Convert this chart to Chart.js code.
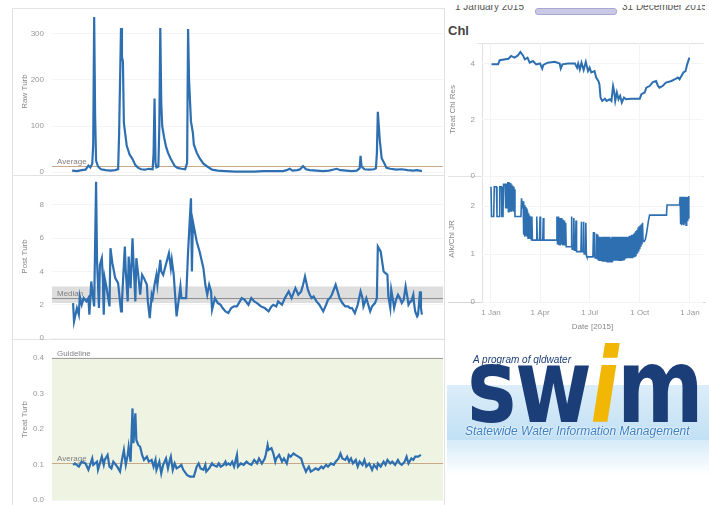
<!DOCTYPE html>
<html>
<head>
<meta charset="utf-8">
<script src="https://cdn.jsdelivr.net/npm/chart.js@4.4.1/dist/chart.umd.min.js"></script>
<style>
body { margin: 0; width: 709px; height: 505px; overflow: hidden; position: relative; background: #fff; font-family: "Liberation Sans", Arial, sans-serif; }
canvas { position: absolute; }
.ln { position: absolute; background: #e2e2e2; }
.txt { position: absolute; white-space: nowrap; }
</style>
</head>
<body>

<!-- pane frames -->
<div class="ln" style="left:12px;top:8px;width:1px;height:497px"></div>
<div class="ln" style="left:12px;top:8px;width:433px;height:1px"></div>
<div class="ln" style="left:444px;top:8px;width:1px;height:497px"></div>
<div class="ln" style="left:12px;top:175px;width:433px;height:1px"></div>
<div class="ln" style="left:12px;top:339px;width:433px;height:1px"></div>
<div class="ln" style="left:477px;top:43px;width:227px;height:1px"></div>
<div class="ln" style="left:448px;top:176px;width:256px;height:1px"></div>
<div class="ln" style="left:448px;top:302px;width:258px;height:1px;background:#d8d8d8"></div>
<div class="ln" style="left:482px;top:43px;width:1px;height:260px"></div>

<!-- date filter (cut at top) -->
<div class="txt" style="left:455px;top:5px;height:10px;width:250px;overflow:hidden">
  <div class="txt" style="left:0;top:-4px;font-size:10px;color:#555">1 January 2015</div>
  <div class="txt" style="left:80px;top:3px;width:80px;height:5px;background:#c9c9e6;border:1px solid #a8a8d2;border-radius:3px"></div>
  <div class="txt" style="left:167px;top:-4px;font-size:10px;color:#555">31 December 2015</div>
</div>
<div class="txt" style="left:448px;top:23px;font-size:13px;font-weight:bold;color:#444">Chl</div>

<canvas id="raw" width="431" height="183" style="left:12px;top:0px"></canvas>
<canvas id="post" width="431" height="179" style="left:12px;top:167px"></canvas>
<canvas id="treat" width="431" height="177" style="left:12px;top:331px"></canvas>
<canvas id="chl" width="263" height="149" style="left:440px;top:35px"></canvas>
<canvas id="alk" width="263" height="167" style="left:440px;top:168px"></canvas>

<!-- logo -->
<div class="txt" style="left:447px;top:385px;width:262px;height:55px;background:linear-gradient(to bottom,#dbedf9,#c2e0f5)"></div>
<div class="txt" style="left:447px;top:440px;width:262px;height:35px;background:linear-gradient(to bottom,#d6ebf8,#ffffff)"></div>
<div class="txt" style="left:473px;top:354px;font-size:10px;font-style:italic;color:#1c3e78">A program of qldwater</div>
<div class="txt" style="left:467px;top:334px;font-family:'DejaVu Sans',sans-serif;font-weight:bold;font-size:104px;line-height:104px;color:#1c3e78;transform:scaleX(0.8);transform-origin:0 0;letter-spacing:-2px">sw<span style="color:#f2b705;font-style:italic">i</span>m</div>
<div class="txt" style="left:465px;top:424px;font-size:12px;font-style:italic;color:#3b7fc4;text-shadow:0 0 2px #fff,0 0 2px #fff">Statewide Water Information Management</div>

<script>
// values, x = day of 2015 (0 = 1 Jan)
const rawTurb = [[0,3],[5,2],[10,4],[14,5],[17,14],[19,10],[21,18],[22,60],[23,337],[24,120],[25,25],[27,12],[30,6],[35,4],[40,3],[45,4],[48,6],[49,80],[51,313],[52,250],[53,240],[54,107],[55,90],[57,57],[60,38],[63,28],[66,15],[69,9],[72,6],[76,5],[80,7],[84,6],[85,40],[86,160],[87,20],[88,10],[90,12],[91,100],[92,313],[93,150],[94,100],[96,75],[98,55],[100,42],[103,28],[107,13],[110,9],[114,7],[118,6],[120,20],[121,311],[122,200],[124,110],[126,85],[127,60],[130,42],[133,30],[137,18],[141,12],[146,5],[152,3],[160,2],[170,1],[180,1],[190,1],[200,2],[210,2],[220,2],[224,4],[227,7],[230,3],[235,4],[238,6],[241,13],[244,6],[248,4],[255,3],[262,2],[268,3],[272,5],[276,7],[280,4],[286,3],[292,2],[297,3],[300,8],[301,35],[302,12],[305,6],[310,5],[315,6],[317,8],[318,40],[319,131],[321,70],[323,30],[326,18],[328,9],[332,7],[338,5],[344,6],[350,4],[356,3],[360,4],[365,2]];

const postTurb = [[1,2.1],[2,1.0],[5,1.8],[7,1.4],[8,2.5],[10,2.0],[12,2.4],[15,2.2],[17,2.4],[18,1.4],[20,3.4],[21,2.8],[23,1.9],[25,9.4],[26,4.6],[28,1.8],[29,4.4],[31,4.8],[32,3.6],[33,1.4],[34,3.6],[36,3.0],[39,1.9],[40,5.4],[42,4.5],[45,3.6],[48,3.3],[51,1.6],[52,2.2],[55,5.5],[56,4.0],[58,2.2],[59,4.9],[61,3.0],[63,6.0],[64,4.6],[66,2.2],[67,4.8],[69,3.8],[71,2.6],[73,3.8],[75,3.6],[78,3.2],[79,2.2],[81,1.2],[83,2.6],[84,2.4],[86,3.2],[88,3.8],[89,3.2],[92,4.7],[93,4.0],[95,3.8],[101,5.1],[103,4.2],[104,4.7],[106,3.8],[109,1.3],[113,3.1],[114,2.4],[119,2.4],[121,5.2],[124,8.4],[125,4.0],[126,7.0],[130,5.8],[133,5.2],[137,4.2],[139,3.2],[141,2.6],[143,3.2],[145,2.8],[146,1.7],[149,2.4],[152,2.1],[155,2.0],[157,1.8],[160,1.6],[163,1.5],[166,1.8],[169,1.9],[172,1.9],[175,2.2],[177,2.4],[180,2.3],[184,2.0],[187,2.4],[190,2.2],[193,2.1],[197,1.9],[201,1.8],[205,1.6],[208,1.9],[210,2.0],[213,1.9],[215,2.2],[219,2.0],[222,2.4],[226,2.8],[229,2.4],[231,2.7],[233,3.0],[236,2.6],[239,2.8],[241,3.2],[243,3.7],[246,2.9],[248,2.6],[250,2.4],[252,2.5],[255,2.2],[258,2.0],[260,1.8],[262,1.6],[265,2.0],[267,2.3],[269,2.4],[271,2.6],[273,2.9],[275,3.2],[277,2.8],[279,2.4],[282,2.1],[285,1.9],[288,1.9],[290,1.8],[292,1.8],[295,1.5],[298,2.0],[301,2.8],[303,2.4],[304,1.9],[307,2.4],[309,2.0],[311,1.6],[313,1.9],[316,2.1],[318,2.4],[319,5.5],[321,5.3],[322,5.2],[325,4.0],[327,3.9],[329,3.8],[330,2.5],[332,1.8],[333,2.9],[335,2.2],[336,1.8],[338,2.3],[340,2.6],[342,2.4],[344,2.1],[346,2.3],[348,3.1],[350,2.4],[351,2.0],[353,2.2],[354,2.2],[356,2.6],[357,2.0],[358,1.6],[360,1.3],[361,1.4],[363,2.8],[364,1.8],[365,1.4]];

const treatTurb = [[1,0.099],[3,0.103],[7,0.094],[10,0.108],[14,0.103],[17,0.085],[21,0.117],[22,0.099],[26,0.108],[27,0.085],[31,0.122],[33,0.099],[34,0.113],[37,0.127],[39,0.094],[41,0.089],[43,0.108],[47,0.094],[50,0.080],[52,0.113],[54,0.141],[56,0.099],[58,0.127],[59,0.150],[61,0.108],[63,0.258],[64,0.160],[66,0.244],[67,0.169],[69,0.155],[71,0.150],[73,0.127],[75,0.113],[78,0.122],[80,0.108],[83,0.113],[85,0.094],[87,0.113],[88,0.085],[91,0.108],[93,0.075],[95,0.099],[98,0.117],[100,0.089],[102,0.113],[103,0.122],[105,0.085],[107,0.103],[109,0.089],[112,0.094],[114,0.099],[116,0.085],[120,0.070],[123,0.066],[127,0.066],[130,0.094],[132,0.103],[134,0.089],[137,0.085],[139,0.099],[140,0.080],[143,0.089],[146,0.103],[147,0.099],[151,0.094],[153,0.103],[155,0.094],[158,0.099],[160,0.108],[161,0.099],[163,0.103],[165,0.099],[167,0.108],[169,0.094],[172,0.127],[173,0.094],[176,0.103],[179,0.099],[182,0.108],[184,0.103],[187,0.099],[190,0.113],[193,0.103],[195,0.117],[198,0.103],[201,0.117],[202,0.127],[204,0.155],[205,0.141],[208,0.146],[210,0.131],[212,0.108],[213,0.117],[216,0.127],[219,0.108],[221,0.117],[224,0.103],[226,0.127],[228,0.122],[231,0.131],[233,0.127],[236,0.122],[239,0.117],[241,0.099],[244,0.080],[245,0.085],[247,0.094],[249,0.080],[252,0.085],[254,0.089],[257,0.085],[260,0.094],[262,0.089],[265,0.099],[267,0.094],[270,0.103],[273,0.099],[275,0.108],[278,0.117],[280,0.131],[282,0.117],[285,0.113],[287,0.122],[289,0.108],[291,0.117],[293,0.103],[296,0.113],[298,0.094],[300,0.108],[303,0.099],[305,0.113],[307,0.094],[310,0.103],[313,0.085],[315,0.099],[318,0.089],[319,0.103],[322,0.094],[325,0.108],[327,0.099],[329,0.113],[332,0.103],[334,0.108],[337,0.099],[340,0.113],[342,0.103],[344,0.099],[347,0.108],[349,0.122],[351,0.103],[354,0.117],[356,0.113],[358,0.122],[361,0.122],[364,0.127]];

const chlRes = [[1,3.97],[13,3.97],[16,4.12],[32,4.17],[37,4.27],[43,4.21],[49,4.28],[54,4.41],[59,4.28],[62,4.15],[67,4.21],[71,4.03],[77,4.09],[83,3.97],[90,4.0],[94,3.82],[96,3.95],[104,4.03],[117,4.06],[126,4.0],[128,3.82],[131,3.97],[141,4.0],[154,4.0],[158,3.85],[160,4.0],[163,3.79],[166,4.03],[170,3.77],[174,4.06],[178,3.73],[181,3.85],[184,3.68],[190,3.73],[193,3.5],[197,3.38],[199,3.26],[201,2.79],[204,2.67],[209,2.75],[212,2.67],[218,2.73],[221,2.67],[224,3.2],[226,3.02],[228,2.67],[231,2.97],[234,2.73],[237,2.85],[240,2.61],[244,2.79],[248,2.73],[257,2.75],[273,2.75],[276,2.91],[282,2.97],[285,3.14],[291,3.2],[297,3.34],[303,3.38],[306,3.22],[309,3.14],[315,3.2],[321,3.32],[331,3.38],[337,3.44],[343,3.5],[346,3.44],[353,3.68],[357,3.73],[360,3.97],[364,4.21]];

const alkChl = [[0,2.40],[1,1.78],[5,1.78],[6,2.40],[10,2.40],[11,1.78],[15,1.78],[16,2.40],[19,2.40],[20,1.78],[22,1.78],[23,2.45],[26,2.45],[27,1.95],[28,2.47],[29,1.95],[31,2.50],[32,1.88],[33,2.50],[34,1.90],[35,2.48],[36,1.88],[37,2.45],[38,1.88],[39,2.42],[40,1.90],[41,2.40],[42,1.88],[43,2.35],[44,1.78],[55,1.78],[56,2.16],[58,1.95],[59,2.10],[60,1.40],[61,2.02],[62,1.36],[63,1.98],[64,1.38],[65,1.95],[66,1.36],[67,1.90],[68,1.33],[69,1.85],[70,1.36],[71,1.80],[72,1.33],[73,1.78],[74,1.30],[75,1.78],[76,1.29],[83,1.29],[84,1.78],[85,1.29],[89,1.29],[90,1.78],[91,1.29],[95,1.29],[96,1.75],[97,1.29],[120,1.29],[121,1.78],[122,1.20],[124,1.78],[125,1.20],[126,1.75],[127,1.18],[129,1.75],[130,1.20],[131,1.72],[132,1.18],[134,1.70],[135,1.18],[137,1.65],[138,1.15],[147,1.15],[148,1.78],[149,1.10],[151,1.10],[152,1.75],[153,1.08],[155,1.08],[156,1.70],[157,1.05],[165,1.05],[166,1.67],[167,1.05],[169,1.05],[170,1.67],[171,1.00],[173,1.00],[174,1.65],[175,0.97],[176,0.94],[187,0.94],[188,1.46],[189,0.94],[190,1.45],[191,0.92],[193,0.92],[194,1.42],[195,0.90],[196,1.40],[197,0.88],[198,1.36],[199,0.87],[200,1.36],[201,0.86],[202,1.35],[203,0.85],[204,1.36],[205,0.84],[206,1.36],[207,0.84],[208,1.33],[209,0.84],[210,1.36],[211,0.84],[212,1.33],[213,0.84],[214,1.36],[215,0.84],[216,1.36],[217,0.85],[218,1.36],[219,0.84],[220,1.33],[221,0.84],[222,1.36],[223,0.84],[224,1.36],[225,0.86],[226,1.36],[227,0.86],[228,1.36],[229,0.86],[230,1.36],[231,0.86],[232,1.35],[233,0.86],[234,1.36],[235,0.87],[236,1.36],[237,0.87],[238,1.36],[239,0.87],[240,1.36],[241,0.88],[242,1.36],[243,0.88],[244,1.36],[245,0.88],[246,1.36],[247,0.90],[248,1.36],[249,0.91],[250,1.36],[251,0.91],[252,1.36],[253,0.91],[254,1.38],[255,0.91],[256,1.38],[257,0.93],[258,1.40],[259,0.93],[260,1.40],[261,0.95],[262,1.42],[263,0.95],[264,1.45],[265,0.97],[266,1.48],[267,1.00],[268,1.50],[269,1.01],[270,1.55],[271,1.05],[272,1.58],[273,1.10],[274,1.60],[275,1.15],[276,1.62],[277,1.20],[278,1.65],[279,1.26],[281,1.26],[283,1.30],[285,1.40],[287,1.55],[289,1.70],[291,1.81],[322,1.81],[323,2.02],[346,2.02],[347,2.19],[348,1.62],[349,2.19],[350,1.60],[351,2.19],[352,1.62],[353,2.19],[354,1.60],[355,2.19],[356,1.65],[357,2.19],[358,1.60],[359,2.19],[360,1.70],[361,2.19],[362,1.75],[363,2.19],[364,2.19]];

// reference lines / bands
const rawAverage = 13;
const postMedian = 2.4;
const postBand = [2.1, 3.1];
const treatGuideline = 0.4;
const treatAverage = 0.104;

// tick labels
const rawTicks = [0, 100, 200, 300];
const postTicks = [0, 2, 4, 6, 8];
const treatTicks = [0, 0.1, 0.2, 0.3, 0.4];
const chlTicks = [0, 2, 4];
const alkTicks = [0, 1, 2];
const dateTickDays = [0, 90, 181, 273, 365];
const dateTickLabels = ['1 Jan', '1 Apr', '1 Jul', '1 Oct', '1 Jan'];

const lineBlue = '#2d6fb1';
Chart.defaults.font.family = '"Liberation Sans", Arial, sans-serif';

// draws bands and reference lines from y-values through the y scale
const refLinesPlugin = {
    id: 'refLines',
    beforeDatasetsDraw(chart, args, opts) {
        const { ctx, chartArea: a, scales: { y } } = chart;
        ctx.save();
        (opts.bands || []).forEach(b => {
            const y1 = y.getPixelForValue(b.to);
            const y2 = y.getPixelForValue(b.from);
            ctx.fillStyle = b.color;
            ctx.fillRect(a.left, y1, a.right - a.left, y2 - y1);
        });
        (opts.lines || []).forEach(l => {
            const py = Math.round(y.getPixelForValue(l.value)) + 0.5;
            ctx.strokeStyle = l.color;
            ctx.lineWidth = 1;
            ctx.beginPath();
            ctx.moveTo(a.left, py);
            ctx.lineTo(a.right, py);
            ctx.stroke();
            if (l.label) {
                ctx.fillStyle = '#808080';
                ctx.font = '8px "Liberation Sans", Arial';
                ctx.textBaseline = 'bottom';
                ctx.fillText(l.label, a.left + 5, py - 1);
            }
        });
        ctx.restore();
    }
};

function yScale(o) {
    return {
        type: 'linear', min: o.min, max: o.max,
        afterBuildTicks: s => { s.ticks = o.ticks.map(v => ({ value: v })); },
        afterFit: s => { s.width = o.width; s.paddingTop = 0; s.paddingBottom = 0; },
        ticks: { color: '#999', font: { size: 8 }, padding: o.tickPad, callback: o.fmt || (v => v) },
        grid: { color: '#f4f4f4', drawTicks: false },
        border: { display: false },
        title: { display: true, text: o.title, color: '#888', font: { size: 8 }, padding: { top: o.titlePad, bottom: 0 } }
    };
}

function lineChart(id, series, o) {
    return new Chart(document.getElementById(id), {
        type: 'line',
        data: {
            datasets: [{
                data: series.map(p => ({ x: p[0], y: p[1] })),
                borderColor: lineBlue,
                borderWidth: o.lw || 2.2,
                pointRadius: 0,
                tension: 0
            }]
        },
        options: {
            responsive: false,
            animation: false,
            events: [],
            layout: { padding: { top: 8, bottom: o.padBottom === undefined ? 8 : o.padBottom, left: 0, right: 0 } },
            plugins: { legend: { display: false }, tooltip: { enabled: false }, refLines: o.refs || {} },
            scales: { x: o.x, y: o.y }
        },
        plugins: [refLinesPlugin]
    });
}

const leftX = { type: 'linear', min: -21, max: 387, display: false };

function rightX(showLabels) {
    return {
        type: 'linear', min: -16.5, max: 389,
        afterBuildTicks: s => { s.ticks = dateTickDays.map(v => ({ value: v })); },
        afterFit: s => { s.height = showLabels ? 33 : 0; s.paddingLeft = 0; s.paddingRight = 0; },
        ticks: { display: showLabels, color: '#999', font: { size: 8 }, padding: 6, autoSkip: false, maxRotation: 0,
                 callback: (v, i) => dateTickLabels[i] },
        grid: { color: '#f4f4f4', drawTicks: false },
        border: { display: false },
        title: { display: showLabels, text: 'Date [2015]', color: '#888', font: { size: 8 }, padding: { top: 0, bottom: 3 } }
    };
}

lineChart('raw', rawTurb, {
    x: leftX,
    y: yScale({ min: -6.5, max: 356.5, ticks: rawTicks, width: 40, tickPad: 8, titlePad: 8, title: 'Raw Turb' }),
    refs: { lines: [{ value: rawAverage, color: '#c9a987', label: 'Average' }] }
});

lineChart('post', postTurb, {
    x: leftX,
    y: yScale({ min: 0, max: 9.8, ticks: postTicks, width: 40, tickPad: 8, titlePad: 8, title: 'Post Turb' }),
    refs: {
        bands: [{ from: postBand[0], to: postBand[1], color: '#dedede' }],
        lines: [{ value: postMedian, color: '#8f8f8f', label: 'Median' }]
    }
});

lineChart('treat', treatTurb, {
    x: leftX,
    y: yScale({ min: 0, max: 0.4535, ticks: treatTicks, width: 40, tickPad: 8, titlePad: 8, title: 'Treat Turb',
                fmt: v => v.toFixed(1) }),
    refs: {
        bands: [{ from: 0, to: treatGuideline, color: '#eef3e2' }],
        lines: [{ value: treatGuideline, color: '#a0a0a0', label: 'Guideline' },
                { value: treatAverage, color: '#c9a987', label: 'Average' }]
    }
});

lineChart('chl', chlRes, {
    lw: 2,
    x: rightX(false),
    y: yScale({ min: 0, max: 4.73, ticks: chlTicks, width: 42, tickPad: 7, titlePad: 8, title: 'Treat Chl Res' })
});

lineChart('alk', alkChl, {
    lw: 1.6,
    padBottom: 0,
    x: rightX(true),
    y: yScale({ min: 0, max: 2.625, ticks: alkTicks, width: 42, tickPad: 7, titlePad: 7, title: 'Alk/Chl JR' })
});
</script>
</body>
</html>
